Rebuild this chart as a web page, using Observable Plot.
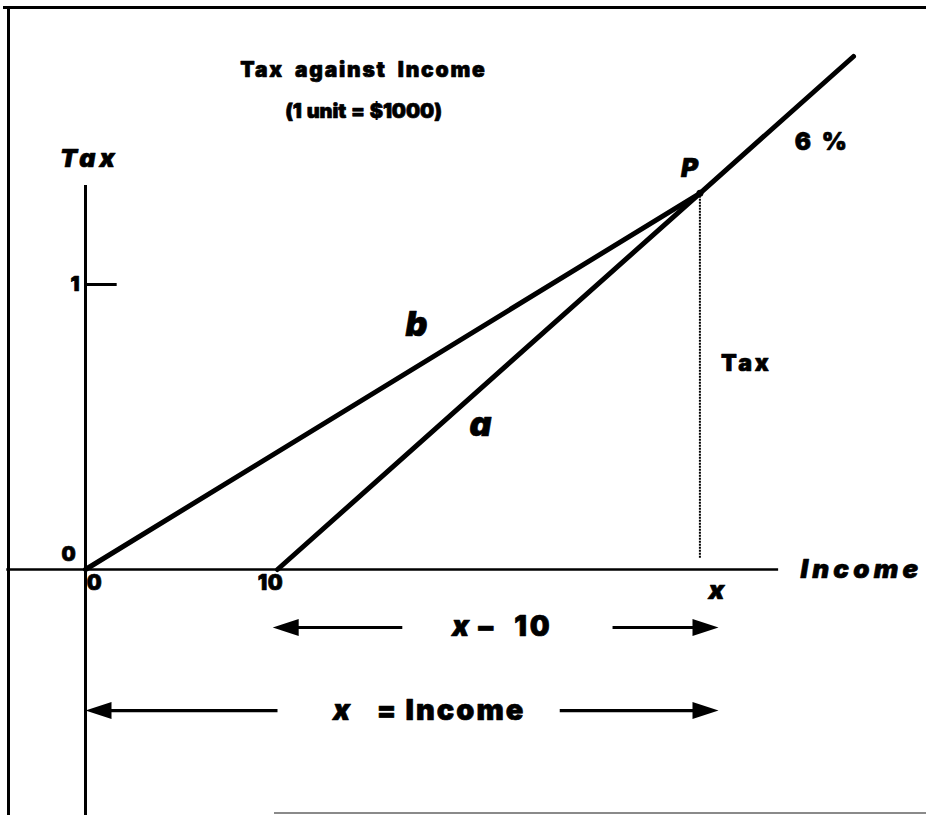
<!DOCTYPE html>
<html>
<head>
<meta charset="utf-8">
<script src="https://cdn.jsdelivr.net/npm/d3@7"></script>
<script src="https://cdn.jsdelivr.net/npm/@observablehq/plot@0.6"></script>
<style>
  html, body { margin: 0; padding: 0; background: #fff; }
  #wrap { position: relative; width: 926px; height: 815px; overflow: hidden; background: #fff; }
  #wrap svg { position: absolute; left: 0; top: 0; }
  .edge { position: absolute; background: #000; }
</style>
</head>
<body>
<div id="wrap">
  <div class="edge" style="left:3px;top:6px;width:923px;height:3px"></div>
  <div class="edge" style="left:7px;top:6px;width:3px;height:809px"></div>
  <div class="edge" style="left:274px;top:812px;width:652px;height:2px;background:#8a8a8a"></div>
</div>
<script>
// Income in units of $1000, tax in the same units.
const titleText = "Tax against Income";
const subtitleText = "(1 unit = $1000)";
const rateLabel = "6 %";
const incomeTicks = [0, 10];
const incomeTickLabels = ["0", "10"];
const taxTicks = [0, 1];
const taxTickLabels = ["0", "1"];

// Schedule a: 6% on income above 10 units.
const scheduleA = [
  {income: 10, tax: 0},
  {income: 32, tax: 1.32},
  {income: 40, tax: 1.8}
];
// Schedule b: straight line from the origin through P.
const scheduleB = [
  {income: 0, tax: 0},
  {income: 32, tax: 1.32}
];
const pointP = {income: 32, tax: 1.32, name: "P"};

const FONT = "Inter, Roboto, 'Liberation Sans', sans-serif";
// a thin outline of the same colour thickens the glyphs
const heavy = {fontFamily: FONT, fontWeight: 900, fill: "#000", stroke: "#000", strokeWidth: 0.7};
const heavyItalic = {...heavy, fontStyle: "italic"};

// filled arrowhead whose tip sits on the anchor point, pointing right
const arrowHead = {
  draw(ctx) {
    ctx.moveTo(0, 0);
    ctx.lineTo(-26, -8.5);
    ctx.lineTo(-26, 8.5);
    ctx.closePath();
  }
};

// dimension arrows below the income axis (gaps leave room for the labels)
const dimRows = [
  {tax: -0.2035, left: 9.75, leftEnd: 16.5, rightStart: 27.45, right: 32.97},
  {tax: -0.495, left: 0, leftEnd: 10.0, rightStart: 24.7, right: 32.97}
];
const segs = dimRows.flatMap(d => [
  {x1: d.left + 0.8, x2: d.leftEnd, y: d.tax},
  {x1: d.rightStart, x2: d.right - 0.8, y: d.tax}
]);
const heads = dimRows.flatMap(d => [
  {x: d.left, y: d.tax, rot: 180},
  {x: d.right, y: d.tax, rot: 0}
]);

// text marks carry their own letter / word spacing, applied after rendering
const textSpacing = [];
function label(data, options, letter = 0, word = 0) {
  textSpacing.push([letter, word]);
  return Plot.text(data, options);
}

const chart = Plot.plot({
  width: 926,
  height: 815,
  margin: 0,
  style: {background: "transparent", overflow: "visible"},
  x: {domain: [0, 10], range: [85, 277], axis: null},
  y: {domain: [0, 1], range: [569, 284], axis: null},
  marks: [
    // axes
    Plot.ruleX([0], {y1: -0.9, y2: 1.347, stroke: "#000", strokeWidth: 3}),
    Plot.ruleY([0], {x1: -4.1, x2: 36.1, stroke: "#000", strokeWidth: 2.3}),
    Plot.ruleY(taxTicks.filter(t => t > 0), {x1: 0, x2: 1.65, stroke: "#000", strokeWidth: 3}),
    // dotted drop from P to the income axis
    Plot.ruleX([pointP], {x: "income", y1: "tax", y2: 0.039, stroke: "#000", strokeWidth: 2, strokeDasharray: "2,1"}),
    // schedules
    Plot.line(scheduleA, {x: "income", y: "tax", stroke: "#000", strokeWidth: 5, strokeLinecap: "round"}),
    Plot.line(scheduleB, {x: "income", y: "tax", stroke: "#000", strokeWidth: 5, strokeLinecap: "round"}),
    Plot.dot([pointP], {x: "income", y: "tax", r: 3.5, fill: "#000"}),
    // dimension arrows
    Plot.link(segs, {x1: "x1", x2: "x2", y1: "y", y2: "y", stroke: "#000", strokeWidth: 3.2}),
    Plot.dot(heads, {x: "x", y: "y", rotate: "rot", symbol: arrowHead, fill: "#000", stroke: null, r: 5}),
    // tick labels
    label(taxTicks, {x: d => d === 0 ? -0.885 : -0.55, y: d => d === 0 ? 0.053 : d,
      text: (d, i) => taxTickLabels[i], textAnchor: d => d === 0 ? "middle" : "end", fontSize: 20, ...heavy}),
    label(incomeTicks, {x: d => d === 0 ? 0.47 : d - 0.36, y: -0.05,
      text: (d, i) => incomeTickLabels[i], fontSize: 21, ...heavy}, 0.5),
    label([pointP], {x: d => d.income + 0.86, y: -0.074, text: () => "x", fontSize: 26, ...heavyItalic}),
    // axis titles and line labels
    label(["Tax"], {x: 0.2, y: 1.442, text: d => d, fontSize: 25, ...heavyItalic}, 4),
    label(["Income"], {x: 37.24, y: 0, text: d => d, textAnchor: "start", fontSize: 26, ...heavyItalic}, 4.2),
    label([pointP], {x: d => d.income - 0.54, y: 1.407, text: "name", fontSize: 26, ...heavyItalic}),
    label([rateLabel], {x: 38.33, y: 1.498, text: d => d, fontSize: 24, ...heavy}, 1.5, 3),
    label(["b"], {x: 17.24, y: 0.856, text: d => d, fontSize: 34, ...heavyItalic}),
    label(["a"], {x: 20.57, y: 0.505, text: d => d, fontSize: 34, ...heavyItalic}),
    label(["Tax"], {x: 33.1, y: 0.723, text: d => d, textAnchor: "start", fontSize: 23, ...heavy}, 3),
    // dimension labels
    label(["x"], {x: 19.53, y: -0.2035, text: d => d, fontSize: 28, ...heavyItalic}),
    label(["\u2013"], {x: 20.85, y: -0.2035, text: d => d, fontSize: 30, ...heavy}),
    label(["10"], {x: 23.33, y: -0.2035, text: d => d, fontSize: 28, ...heavy}, 3),
    label(["x"], {x: 13.33, y: -0.495, text: d => d, fontSize: 28, ...heavyItalic}),
    label(["="], {x: 15.68, y: -0.495, text: d => d, fontSize: 28, ...heavy}),
    label(["Income"], {x: 19.79, y: -0.495, text: d => d, fontSize: 29, ...heavy}, 2),
    // title
    label([titleText], {x: 14.48, y: 1.751, text: d => d, fontSize: 21, ...heavy}, 1.8, 5),
    label([subtitleText], {x: 14.48, y: 1.605, text: d => d, fontSize: 20, ...heavy}, -0.1, 1)
  ]
});

d3.select(chart).selectAll('g[aria-label="text"]').each(function(_, i) {
  const [letter, word] = textSpacing[i] || [0, 0];
  this.setAttribute("letter-spacing", letter);
  this.setAttribute("word-spacing", word);
});

document.getElementById("wrap").appendChild(chart);
</script>
</body>
</html>
